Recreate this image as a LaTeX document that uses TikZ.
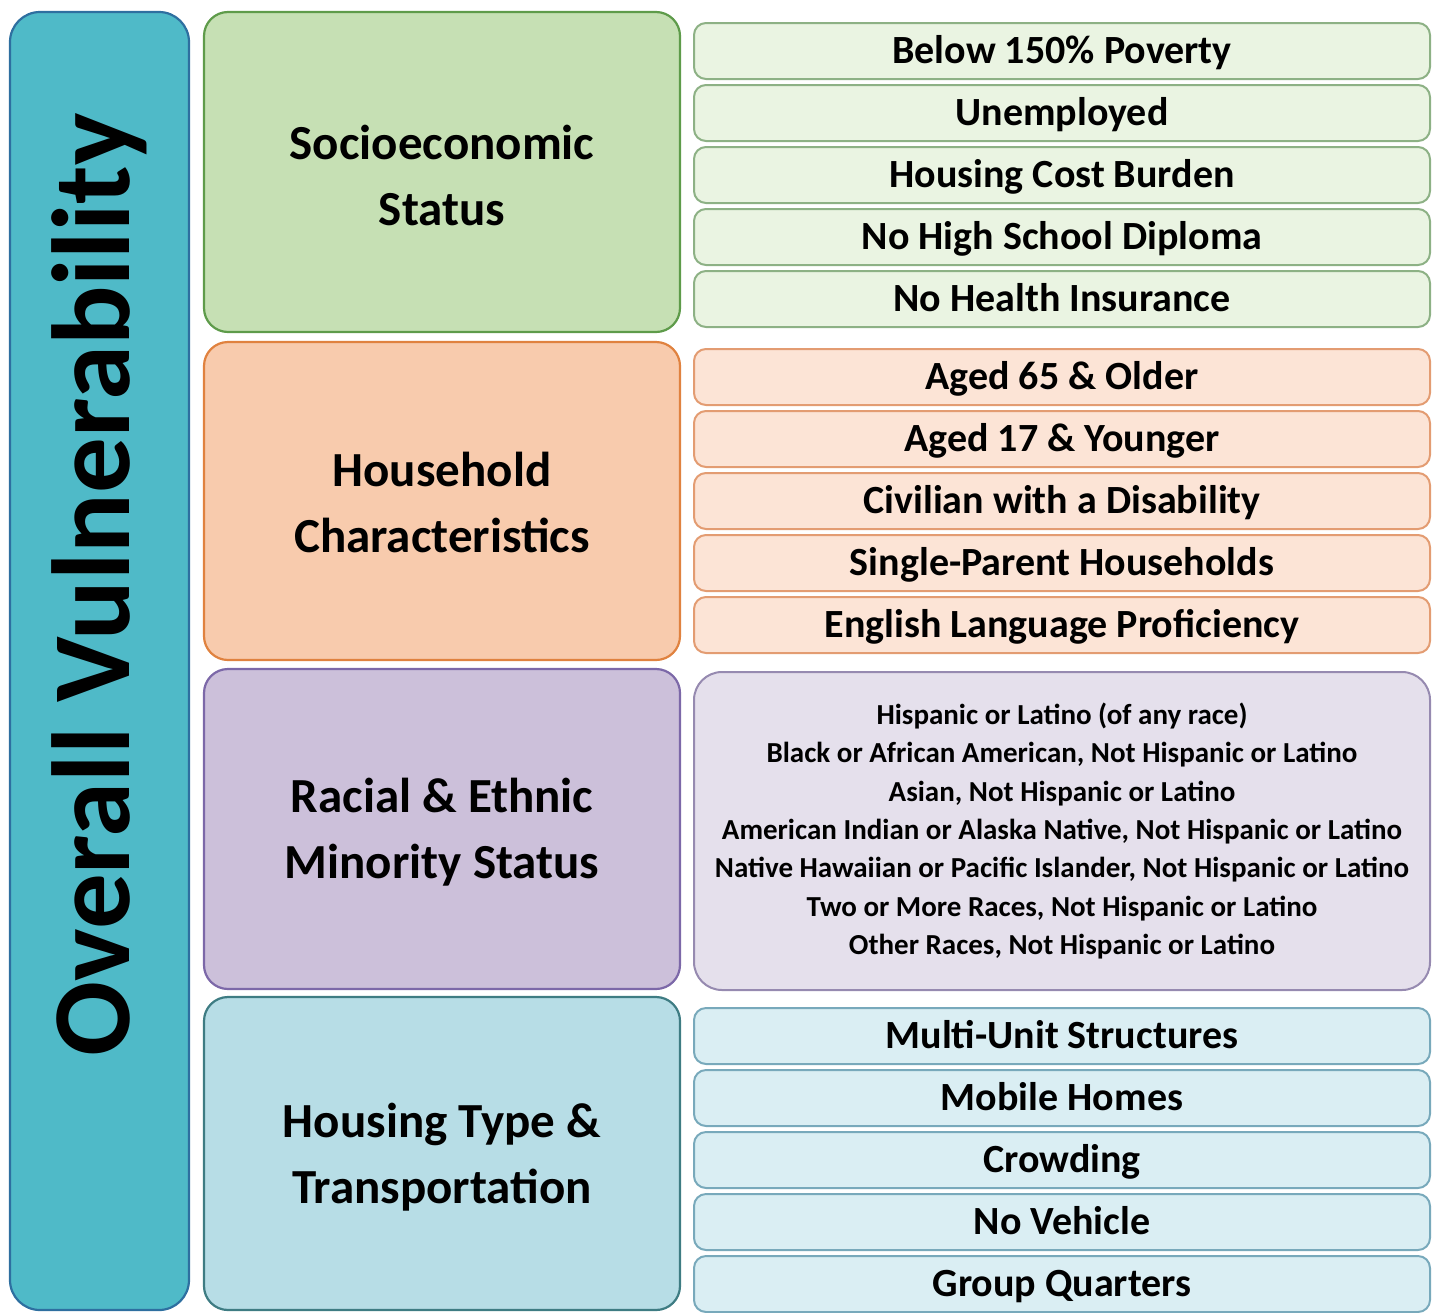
\documentclass[tikz,border=0pt]{standalone}
\usepackage{fontspec}
\setmainfont{Carlito}
\definecolor{barfill}{HTML}{4FBAC8}
\definecolor{barline}{HTML}{2E6FA0}
\definecolor{sesfill}{HTML}{C6E0B4}
\definecolor{sesline}{HTML}{5E9B4A}
\definecolor{hhfill}{HTML}{F8CBAD}
\definecolor{hhline}{HTML}{E0823F}
\definecolor{refill}{HTML}{CCC0DA}
\definecolor{reline}{HTML}{7C68A8}
\definecolor{htfill}{HTML}{B7DDE6}
\definecolor{htline}{HTML}{3E7C83}
\definecolor{gitem}{HTML}{EAF4E2}
\definecolor{gitemline}{HTML}{8DB185}
\definecolor{oitem}{HTML}{FCE4D6}
\definecolor{oitemline}{HTML}{E39C72}
\definecolor{pitem}{HTML}{E5E0EC}
\definecolor{pitemline}{HTML}{968AB0}
\definecolor{bitem}{HTML}{DAEEF3}
\definecolor{bitemline}{HTML}{78A9BB}
\tikzset{
  catbox/.style={draw=#1, line width=1.1pt, rounded corners=12pt, minimum width=238pt,
    inner sep=0pt},
  cattext/.style={font=\fontsize{24.5}{33}\selectfont\bfseries, align=center},
  itembox/.style 2 args={draw=#2, fill=#1, line width=1pt, rounded corners=6pt,
    minimum width=368pt, minimum height=28pt, inner sep=0pt,
    text height=14pt, text depth=2pt,
    font=\fontsize{20}{24}\selectfont\bfseries},
}
\begin{document}
\begin{tikzpicture}[x=0.5pt,y=-0.5pt]
\useasboundingbox (0,0) rectangle (1433,1312);
% left bar
\node[draw=barline, fill=barfill, line width=1.1pt, rounded corners=15pt,
  minimum width=89.5pt, minimum height=649pt, inner sep=0pt] (bar) at (99.5,661) {};
\node[rotate=90, font=\fontsize{55.5}{60}\selectfont\bfseries, inner sep=0pt] (overall) at (99.5,585) {Overall Vulnerability};
% categories
\node[catbox=sesline, fill=sesfill, minimum height=160pt] (ses) at (442,172) {};
\node[cattext] (sest) at (442,175) {Socioeconomic\\Status};
\node[catbox=hhline, fill=hhfill, minimum height=159pt] (hh) at (442,501) {};
\node[cattext] (hht) at (442,502) {Household\\Characteristics};
\node[catbox=reline, fill=refill, minimum height=160pt] (re) at (442,829) {};
\node[cattext] (ret) at (442,832) {Racial \& Ethnic\\Minority Status};
\node[catbox=htline, fill=htfill, minimum height=156.5pt] (ht) at (442,1153.5) {};
\node[cattext] (htt) at (442,1157) {Housing Type \&\\Transportation};
% socioeconomic items
\node[itembox={gitem}{gitemline}] (s1) at (1062,51) {Below 150\% Poverty};
\node[itembox={gitem}{gitemline}] (s2) at (1062,113) {Unemployed};
\node[itembox={gitem}{gitemline}] (s3) at (1062,175) {Housing Cost Burden};
\node[itembox={gitem}{gitemline}] (s4) at (1062,237) {No High School Diploma};
\node[itembox={gitem}{gitemline}] (s5) at (1062,299) {No Health Insurance};
% household items
\node[itembox={oitem}{oitemline}] (h1) at (1062,377) {Aged 65 \& Older};
\node[itembox={oitem}{oitemline}] (h2) at (1062,439) {Aged 17 \& Younger};
\node[itembox={oitem}{oitemline}] (h3) at (1062,501) {Civilian with a Disability};
\node[itembox={oitem}{oitemline}] (h4) at (1062,563) {Single-Parent Households};
\node[itembox={oitem}{oitemline}] (h5) at (1062,625) {English Language Proficiency};
% racial items
\node[draw=pitemline, fill=pitem, line width=1pt, rounded corners=14pt,
  minimum width=368pt, minimum height=159pt, inner sep=0pt, align=center,
  font=\fontsize{14.5}{19.15}\selectfont\bfseries] (r1) at (1062,831)
  {Hispanic or Latino (of any race)\\
   Black or African American, Not Hispanic or Latino\\
   Asian, Not Hispanic or Latino\\
   American Indian or Alaska Native, Not Hispanic or Latino\\
   Native Hawaiian or Pacific Islander, Not Hispanic or Latino\\
   Two or More Races, Not Hispanic or Latino\\
   Other Races, Not Hispanic or Latino};
% housing items
\node[itembox={bitem}{bitemline}] (t1) at (1062,1036) {Multi-Unit Structures};
\node[itembox={bitem}{bitemline}] (t2) at (1062,1098) {Mobile Homes};
\node[itembox={bitem}{bitemline}] (t3) at (1062,1160) {Crowding};
\node[itembox={bitem}{bitemline}] (t4) at (1062,1222) {No Vehicle};
\node[itembox={bitem}{bitemline}] (t5) at (1062,1284) {Group Quarters};
\end{tikzpicture}
\end{document}
